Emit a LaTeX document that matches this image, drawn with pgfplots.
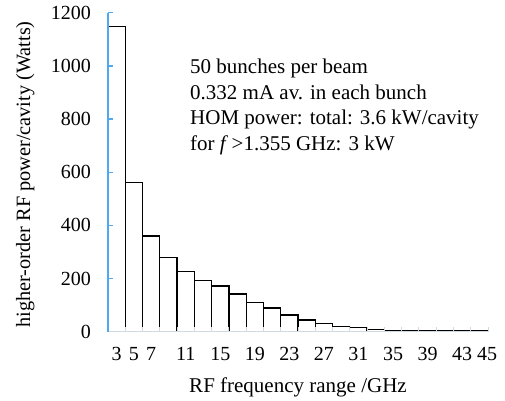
\documentclass[border=0pt]{standalone}
\usepackage{pgfplots}
\pgfplotsset{compat=1.18}
\usepackage{fontspec}
\setmainfont{Liberation Serif}
\definecolor{axblue}{RGB}{80,168,240}
\definecolor{axgrey}{RGB}{208,216,226}
\pgfplotstableread{
idx power
0 1147
1 562
2 360
3 278
4 226
5 192
6 172
7 142
8 111
9 89
10 63
11 44
12 30
13 19
14 16
15 9
16 5
17 3
18 3
19 3
20 3
21 3
}\hompower
\begin{document}
\fontsize{20}{24}\selectfont
\begin{tikzpicture}[x=1pt,y=1pt]
\path[use as bounding box] (0,0) rectangle (505,400);
\begin{axis}[
  at={(108pt,68.3pt)}, anchor=south west,
  scale only axis, width=380pt, height=319pt,
  xmin=-0.5, xmax=21.5, ymin=0, ymax=1200,
  axis on top,
  axis x line=bottom, axis y line=left,
  x axis line style={draw=axgrey, line width=1pt, -},
  y axis line style={draw=axblue, line width=1.3pt, -},
  tick align=inside, major tick length=5pt,
  xtick={-0.5,0.5,...,21.5}, xticklabels={},
  xtick style={draw=axgrey, line width=1pt},
  ytick={0,200,...,1200},
  ytick style={draw=axblue, line width=1.3pt},
  extra x ticks={0,1,2,4,6,8,10,12,14,16,18,20,21.45},
  extra x tick labels={3,5,7,11,15,19,23,27,31,35,39,43,45},
  extra x tick style={major tick length=0pt},
  /pgf/number format/assume math mode=true,
  /pgf/number format/1000 sep={},
  ticklabel style={font=\fontsize{20}{24}\selectfont, inner sep=0pt},
  yticklabel style={anchor=east, xshift=-17pt},
  xticklabel style={anchor=north, yshift=-15.5pt},
  xlabel={RF frequency range /GHz},
  ylabel={higher-order RF power/cavity (Watts)},
  xlabel style={font=\fontsize{21}{25}\selectfont, at={(axis description cs:0.5,-0.192)}, anchor=base},
  ylabel style={font=\fontsize{20.3}{24}\selectfont, at={(axis description cs:-0.218,0.493)}, anchor=center, rotate=0},
  clip=false,
]
\addplot[ybar, bar width=1, fill=white, draw=black, line width=1.3pt] table[x=idx, y=power] {\hompower};
\end{axis}
\begin{scope}[every node/.style={anchor=base west, inner sep=0pt, font=\fontsize{21}{25}\selectfont}]
\node at (190,326.7) {50 bunches per beam};
\node at (190,300.7) {0.332 mA av. in each bunch};
\node at (190,275.7) {HOM power: total: 3.6 kW/cavity};
\node at (190,250.0) {for \textit{f}\,>1.355 GHz: 3 kW};
\end{scope}
\end{tikzpicture}
\end{document}
